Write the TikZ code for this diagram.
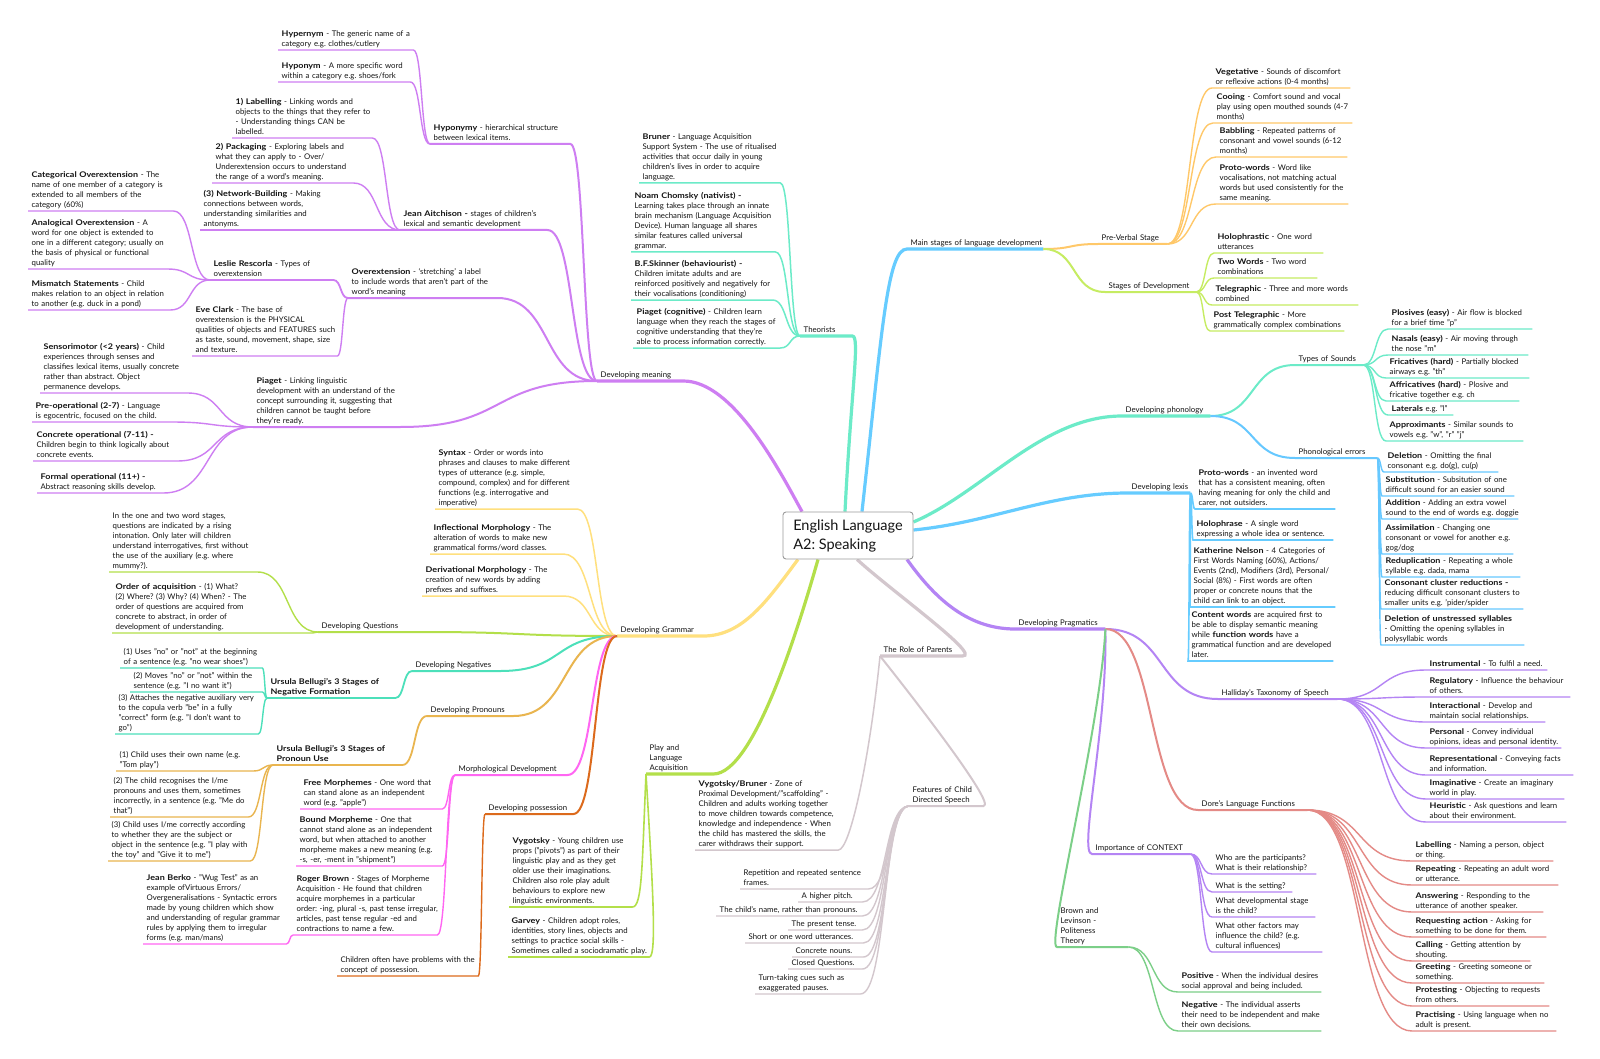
\documentclass[tikz,border=0pt]{standalone}
\usepackage{fontspec}
\setmainfont{Lato}[BoldFeatures={FakeStretch=1.15}]
\usetikzlibrary{calc,backgrounds}
\definecolor{cM}{HTML}{CE7EF2}
\definecolor{cT}{HTML}{6CEBC8}
\definecolor{cMS}{HTML}{66CCFF}
\definecolor{cPV}{HTML}{FFC869}
\definecolor{cSD}{HTML}{C6EC62}
\definecolor{cPh}{HTML}{6CEBC8}
\definecolor{cPE}{HTML}{66C8FF}
\definecolor{cLx}{HTML}{66CCFF}
\definecolor{cPr}{HTML}{B484F4}
\definecolor{cDo}{HTML}{E48A86}
\definecolor{cBL}{HTML}{7CCF88}
\definecolor{cRP}{HTML}{D3C7CD}
\definecolor{cPL}{HTML}{B3DF4A}
\definecolor{cG}{HTML}{FFE07E}
\definecolor{cQ}{HTML}{B3DF4A}
\definecolor{cN}{HTML}{4CE0BA}
\definecolor{cPn}{HTML}{E9B54F}
\definecolor{cMD}{HTML}{FF66F2}
\definecolor{cPo}{HTML}{DC6A1C}
\definecolor{txt}{HTML}{141414}
\definecolor{boxgray}{HTML}{9A9A9A}
\newcommand\lfnt{\fontsize{7.8}{10}\selectfont}
\newcommand\cfnt{\fontsize{14.5}{19}\selectfont}
\newcommand\bb[1]{\textbf{#1}}
\newcommand\LeftCon[4]{\draw[color=#1,line width=#2] (#3.south west) to[sb] (#4.south east) -- (#4.south west);}
\newcommand\RightCon[4]{\draw[color=#1,line width=#2] (#3.south east) to[sb] (#4.south west) -- (#4.south east);}
\tikzset{
  lf/.style={anchor=south west, inner xsep=0pt, inner ysep=0.4pt, text width=#1pt, font=\lfnt, text=txt,
    execute at begin node={\frenchspacing\parindent=0pt\relax\leftskip=3.5pt\relax\rightskip=-200pt plus 1fil\relax\parfillskip=0pt plus 1fil\relax},
    execute at end node={\strut}},
  sb/.style={to path={let \p1=(\tikztostart), \p2=(\tikztotarget), \n1={0.55*(\x2-\x1)}, \n2={-0.55*(\x2-\x1)} in .. controls +(\n1,0pt) and +(\n2,0pt) .. (\tikztotarget)}},
  w1/.style={line width=3.2pt},
}
\begin{document}
\frenchspacing
\begin{tikzpicture}[x=1pt,y=-1pt,line cap=round,line join=round]
\useasboundingbox (0,0) rectangle (1600,1059);
% ---------- centre
\node[draw=boxgray, line width=0.9pt, rounded corners=3pt, fill=white, minimum width=130pt, minimum height=47pt, font=\cfnt, align=left, text=txt] (ctr) at (848,535.5) {English Language\\A2: Speaking};
% ---------- Developing meaning
\node[lf=86] (dm) at (597,381) {Developing meaning};
\node[lf=140] (hypo) at (430,144) {\bb{Hyponymy} - hierarchical structure\\between lexical items.};
\node[lf=135] (hyper) at (278,50) {\bb{Hypernym} - The generic name of a\\category e.g. clothes/cutlery};
\node[lf=132] (hypon) at (278,82) {\bb{Hyponym} - A more specific word\\within a category e.g. shoes/fork};
\node[lf=147] (ja) at (400,230) {\bb{Jean Aitchison -} stages of children's\\lexical and semantic development};
\node[lf=140] (lab) at (232,138) {\bb{1) Labelling} - Linking words and\\objects to the things that they refer to\\- Understanding things CAN be\\labelled.};
\node[lf=141] (pack) at (212,183) {\bb{2) Packaging} - Exploring labels and\\what they can apply to - Over/\\Underextension occurs to understand\\the range of a word's meaning.};
\node[lf=198] (net) at (200,230) {\bb{(3) Network-Building} - Making\\connections between words,\\understanding similarities and\\antonyms.};
\node[lf=149] (ovx) at (348,298) {\bb{Overextension} - `stretching' a label\\to include words that aren't part of the\\word's meaning};
\node[lf=123] (les) at (210,280) {\bb{Leslie Rescorla} - Types of\\overextension};
\node[lf=145] (eve) at (192,356) {\bb{Eve Clark} - The base of\\overextension is the PHYSICAL\\qualities of objects and FEATURES such\\as taste, sound, movement, shape, size\\and texture.};
\node[lf=145] (cat) at (28,211) {\bb{Categorical Overextension} - The\\name of one member of a category is\\extended to all members of the\\category (60\%)};
\node[lf=139] (ana) at (28,269) {\bb{Analogical Overextension} - A\\word for one object is extended to\\one in a different category; usually on\\the basis of physical or functional\\quality};
\node[lf=142] (mis) at (28,310) {\bb{Mismatch Statements} - Child\\makes relation to an object in relation\\to another (e.g. duck in a pond)};
\node[lf=147] (pia) at (253,427) {\bb{Piaget} - Linking linguistic\\development with an understand of the\\concept surrounding it, suggesting that\\children cannot be taught before\\they're ready.};
\node[lf=147] (sen) at (40,393) {\bb{Sensorimotor (<2 years)} - Child\\experiences through senses and\\classifies lexical items, usually concrete\\rather than abstract. Object\\permanence develops.};
\node[lf=138] (pre) at (32,422) {\bb{Pre-operational (2-7)} - Language\\is egocentric, focused on the child.};
\node[lf=144] (con) at (33,461) {\bb{Concrete operational (7-11) -}\\Children begin to think logically about\\concrete events.};
\node[lf=126] (fop) at (37,493) {\bb{Formal operational (11+) -}\\Abstract reasoning skills develop.};
% ---------- Theorists
\node[lf=52] (th) at (800,336) {Theorists};
\node[lf=141] (bru) at (639,183) {\bb{Bruner} - Language Acquisition\\Support System - The use of ritualised\\activities that occur daily in young\\children's lives in order to acquire\\language.};
\node[lf=144] (cho) at (631,252) {\bb{Noam Chomsky (nativist) -}\\Learning takes place through an innate\\brain mechanism (Language Acquisition\\Device). Human language all shares\\similar features called universal\\grammar.};
\node[lf=141] (ski) at (631,300) {\bb{B.F.Skinner (behaviourist) -}\\Children imitate adults and are\\reinforced positively and negatively for\\their vocalisations (conditioning)};
\node[lf=147] (pcg) at (633,348) {\bb{Piaget (cognitive)} - Children learn\\language when they reach the stages of\\cognitive understanding that they're\\able to process information correctly.};
% ---------- Main stages
\node[lf=136] (ms) at (907,249) {Main stages of language development};
\node[lf=69] (pv) at (1098,244) {Pre-Verbal Stage};
\node[lf=91] (sd) at (1105,292) {Stages of Development};
\node[lf=138] (veg) at (1212,88) {\bb{Vegetative} - Sounds of discomfort\\or reflexive actions (0-4 months)};
\node[lf=139] (coo) at (1213,123) {\bb{Cooing} - Comfort sound and vocal\\play using open mouthed sounds (4-7\\months)};
\node[lf=131] (bab) at (1216,157) {\bb{Babbling} - Repeated patterns of\\consonant and vowel sounds (6-12\\months)};
\node[lf=132] (prw) at (1216,204) {\bb{Proto-words} - Word like\\vocalisations, not matching actual\\words but used consistently for the\\same meaning.};
\node[lf=109] (hol) at (1214,253) {\bb{Holophrastic} - One word\\utterances};
\node[lf=103] (two) at (1214,278) {\bb{Two Words} - Two word\\combinations};
\node[lf=146] (tel) at (1212,305) {\bb{Telegraphic} - Three and more words\\combined};
\node[lf=134] (pst) at (1210,331) {\bb{Post Telegraphic} - More\\grammatically complex combinations};
% ---------- Phonology
\node[lf=88] (ph) at (1122,416) {Developing phonology};
\node[lf=68] (ts) at (1295,365) {Types of Sounds};
\node[lf=82] (pe) at (1295,458) {Phonological errors};
\node[lf=144] (plo) at (1388,329) {\bb{Plosives (easy)} - Air flow is blocked\\for a brief time "p"};
\node[lf=140] (nas) at (1388,355) {\bb{Nasals (easy)} - Air moving through\\the nose "m"};
\node[lf=143] (fri) at (1386,378) {\bb{Fricatives (hard)} - Partially blocked\\airways e.g. "th"};
\node[lf=133] (aff) at (1386,401) {\bb{Affricatives (hard)} - Plosive and\\fricative together e.g. ch};
\node[lf=65] (lat) at (1388,415) {\bb{Laterals} e.g. "l"};
\node[lf=137] (app) at (1386,441) {\bb{Approximants} - Similar sounds to\\vowels e.g. "w", "r" "j"};
\node[lf=114] (del) at (1384,472) {\bb{Deletion} - Omitting the final\\consonant e.g. do(g), cu(p)};
\node[lf=132] (sub) at (1382,496) {\bb{Substitution} - Subsitution of one\\difficult sound for an easier sound};
\node[lf=136] (add) at (1382,519) {\bb{Addition} - Adding an extra vowel\\sound to the end of words e.g. doggie};
\node[lf=131] (ass) at (1382,554) {\bb{Assimilation} - Changing one\\consonant or vowel for another e.g.\\gog/dog};
\node[lf=138] (red) at (1382,577) {\bb{Reduplication} - Repeating a whole\\syllable e.g. dada, mama};
\node[lf=142] (ccr) at (1381,609) {\bb{Consonant cluster reductions -}\\reducing difficult consonant clusters to\\smaller units e.g. 'pider/spider};
\node[lf=143] (dus) at (1381,645) {\bb{Deletion of unstressed syllables}\\- Omitting the opening syllables in\\polysyllabic words};
% ---------- Lexis
\node[lf=62] (lx) at (1128,493) {Developing lexis};
\node[lf=140] (lpw) at (1195,509) {\bb{Proto-words} - an invented word\\that has a consistent meaning, often\\having meaning for only the child and\\carer, not outsiders.};
\node[lf=140] (lho) at (1193,540) {\bb{Holophrase} - A single word\\expressing a whole idea or sentence.};
\node[lf=145] (kn) at (1190,607) {\bb{Katherine Nelson} - 4 Categories of\\First Words Naming (60\%), Actions/\\Events (2nd), Modifiers (3rd), Personal/\\Social (8\%) - First words are often\\proper or concrete nouns that the\\child can link to an object.};
\node[lf=145] (cw) at (1188,661) {\bb{Content words} are acquired first to\\be able to display semantic meaning\\while \bb{function words} have a\\grammatical function and are developed\\later.};
% ---------- Pragmatics
\node[lf=90] (pr) at (1015,629) {Developing Pragmatics};
\node[lf=119] (hal) at (1218,699) {Halliday's Taxonomy of Speech};
\node[lf=109] (dor) at (1198,810) {Dore's Language Functions};
\node[lf=98] (ctx) at (1092,854) {Importance of CONTEXT};
\node[lf=71] (bl) at (1057,947) {Brown and\\Levinson -\\Politeness\\Theory};
\node[lf=121] (ins) at (1426,670) {\bb{Instrumental} - To fulfil a need.};
\node[lf=144] (reg) at (1426,697) {\bb{Regulatory} - Influence the behaviour\\of others.};
\node[lf=119] (int) at (1426,722) {\bb{Interactional} - Develop and\\maintain social relationships.};
\node[lf=135] (per) at (1426,748) {\bb{Personal} - Convey individual\\opinions, ideas and personal identity.};
\node[lf=147] (rep) at (1426,775) {\bb{Representational} - Conveying facts\\and information.};
\node[lf=138] (ima) at (1426,799) {\bb{Imaginative} - Create an imaginary\\world in play.};
\node[lf=140] (heu) at (1426,822) {\bb{Heuristic} - Ask questions and learn\\about their environment.};
\node[lf=141] (dla) at (1412,861) {\bb{Labelling} - Naming a person, object\\or thing.};
\node[lf=146] (drp) at (1412,885) {\bb{Repeating} - Repeating an adult word\\or utterance.};
\node[lf=131] (dan) at (1412,912) {\bb{Answering} - Responding to the\\utterance of another speaker.};
\node[lf=134] (drq) at (1412,937) {\bb{Requesting action} - Asking for\\something to be done for them.};
\node[lf=118] (dca) at (1412,961) {\bb{Calling} - Getting attention by\\shouting.};
\node[lf=132] (dgr) at (1412,983) {\bb{Greeting} - Greeting someone or\\something.};
\node[lf=137] (dpt) at (1412,1006) {\bb{Protesting} - Objecting to requests\\from others.};
\node[lf=144] (dpc) at (1412,1031) {\bb{Practising} - Using language when no\\adult is present.};
\node[lf=104] (cw1) at (1212,874) {Who are the participants?\\What is their relationship?};
\node[lf=80] (cw2) at (1212,892) {What is the setting?};
\node[lf=103] (cw3) at (1212,917) {What developmental stage\\is the child?};
\node[lf=110] (cw4) at (1212,952) {What other factors may\\influence the child? (e.g.\\cultural influences)};
\node[lf=143] (pos) at (1178,992) {\bb{Positive} - When the individual desires\\social approval and being included.};
\node[lf=143] (neg) at (1178,1031) {\bb{Negative} - The individual asserts\\their need to be independent and make\\their own decisions.};
% ---------- Role of parents
\node[lf=82] (rp) at (880,656) {The Role of Parents};
\node[lf=143] (vb) at (695,850) {\bb{Vygotsky/Bruner} - Zone of\\Proximal Development/"scaffolding" -\\Children and adults working together\\to move children towards competence,\\knowledge and independence - When\\the child has mastered the skills, the\\carer withdraws their support.};
\node[lf=74] (cds) at (909,806) {Features of Child\\Directed Speech};
\node[lf=128] (f1) at (740,889) {Repetition and repeated sentence\\frames.};
\node[lf=64] (f2) at (798,902) {A higher pitch.};
\node[lf=146] (f3) at (716,916) {The child's name, rather than pronouns.};
\node[lf=74] (f4) at (788,930) {The present tense.};
\node[lf=118] (f5) at (745,943) {Short or one word utterances.};
\node[lf=71] (f6) at (792,957) {Concrete nouns.};
\node[lf=74] (f7) at (788,969) {Closed Questions.};
\node[lf=105] (f8) at (755,994) {Turn-taking cues such as\\exaggerated pauses.};
% ---------- Play
\node[lf=67] (pl) at (646,774) {Play and\\Language\\Acquisition};
\node[lf=123] (vy) at (509,907) {\bb{Vygotsky} - Young children use\\props ("pivots") as part of their\\linguistic play and as they get\\older use their imaginations.\\Children also role play adult\\behaviours to explore new\\linguistic environments.};
\node[lf=141] (ga) at (508,957) {\bb{Garvey} - Children adopt roles,\\identities, story lines, objects and\\settings to practice social skills -\\Sometimes called a sociodramatic play.};
% ---------- Grammar
\node[lf=86] (gr) at (617,636) {Developing Grammar};
\node[lf=142] (syn) at (435,509) {\bb{Syntax} - Order or words into\\phrases and clauses to make different\\types of utterance (e.g. simple,\\compound, complex) and for different\\functions (e.g. interrogative and\\imperative)};
\node[lf=133] (inf) at (430,554) {\bb{Inflectional Morphology} - The\\alteration of words to make new\\grammatical forms/word classes.};
\node[lf=141] (der) at (422,596) {\bb{Derivational Morphology} - The\\creation of new words by adding\\prefixes and suffixes.};
\node[lf=102] (dq) at (318,632) {Developing Questions};
\node[lf=148] (q1) at (109,572) {In the one and two word stages,\\questions are indicated by a rising\\intonation. Only later will children\\understand interrogatives, first without\\the use of the auxiliary (e.g. where\\mummy?).};
\node[lf=200] (q2) at (112,633) {\bb{Order of acquisition} - (1) What?\\(2) Where? (3) Why? (4) When? - The\\order of questions are acquired from\\concrete to abstract, in order of\\development of understanding.};
\node[lf=88] (dng) at (412,671) {Developing Negatives};
\node[lf=128] (ub1) at (267,698) {\bb{Ursula Bellugi's 3 Stages of}\\\bb{Negative Formation}};
\node[lf=142] (n1) at (120,668) {(1) Uses "no" or "not" at the beginning\\of a sentence (e.g. "no wear shoes")};
\node[lf=132] (n2) at (130,692) {(2) Moves "no" or "not" within the\\sentence (e.g. "I no want it")};
\node[lf=143] (n3) at (115,734) {(3) Attaches the negative auxiliary very\\to the copula verb "be" in a fully\\"correct" form (e.g. "I don't want to\\go")};
\node[lf=86] (dpn) at (427,716) {Developing Pronouns};
\node[lf=129] (ub2) at (273,765) {\bb{Ursula Bellugi's 3 Stages of}\\\bb{Pronoun Use}};
\node[lf=137] (p1) at (116,771) {(1) Child uses their own name (e.g.\\"Tom play")};
\node[lf=138] (p2) at (110,817) {(2) The child recognises the I/me\\pronouns and uses them, sometimes\\incorrectly, in a sentence (e.g. "Me do\\that")};
\node[lf=142] (p3) at (108,861) {(3) Child uses I/me correctly according\\to whether they are the subject or\\object in the sentence (e.g. "I play with\\the toy" and "Give it to me")};
\node[lf=112] (mdv) at (455,775) {Morphological Development};
\node[lf=142] (fm) at (300,809) {\bb{Free Morphemes} - One word that\\can stand alone as an independent\\word (e.g. "apple")};
\node[lf=146] (bm) at (296,866) {\bb{Bound Morpheme} - One that\\cannot stand alone as an independent\\word, but when attached to another\\morpheme makes a new meaning (e.g.\\-s, -er, -ment in "shipment")};
\node[lf=144] (rb) at (293,935) {\bb{Roger Brown} - Stages of Morpheme\\Acquisition - He found that children\\acquire morphemes in a particular\\order: -ing, plural -s, past tense irregular,\\articles, past tense regular -ed and\\contractions to name a few.};
\node[lf=143] (jb) at (143,944) {\bb{Jean Berko} - "Wug Test" as an\\example ofVirtuous Errors/\\Overgeneralisations - Syntactic errors\\made by young children which show\\and understanding of regular grammar\\rules by applying them to irregular\\forms (e.g. man/mans)};
\node[lf=88] (dps) at (485,814) {Developing possession};
\node[lf=141] (cp) at (337,976) {Children often have problems with the\\concept of possession.};
% ================= connectors
\begin{scope}[on background layer]
\fill[white] (0,0) rectangle (1600,1059);
% main branches
\draw[cM,w1] ([xshift=-46pt]ctr.north) .. controls +(-22,-40) and +(50,0) .. (dm.south east) -- (dm.south west);
\draw[cT,w1] ([xshift=-3pt]ctr.north) .. controls +(6,-120) and +(8,0) .. (th.south east) -- (th.south west);
\draw[cMS,w1] ([xshift=14pt]ctr.north) .. controls +(20,-180) and +(-20,0) .. (ms.south west) -- (ms.south east);
\draw[cPh,w1] ([yshift=13.5pt]ctr.east) .. controls +(70,-30) and +(-80,0) .. (ph.south west) -- (ph.south east);
\draw[cLx,w1] ([yshift=5.5pt]ctr.east) .. controls +(80,-8) and +(-80,0) .. (lx.south west) -- (lx.south east);
\draw[cPr,w1] ([xshift=59pt]ctr.south) .. controls +(25,35) and +(-50,0) .. (pr.south west) -- (pr.south east);
\draw[cRP,w1] ([xshift=9pt]ctr.south) .. controls +(35,32) and +(20,0) .. (rp.south east) -- (rp.south west);
\draw[cPL,w1] ([xshift=-30pt]ctr.south) .. controls +(-20,70) and +(40,0) .. (pl.south east) -- (pl.south west);
\draw[cG,w1] ([xshift=-50pt]ctr.south) .. controls +(-30,40) and +(40,0) .. (gr.south east) -- (gr.south west);
% meaning
\foreach \c in {hypo,ja,ovx,pia} {\LeftCon{cM}{2pt}{dm}{\c}}
\LeftCon{cM}{1.8pt}{ovx}{les}
\foreach \c in {hyper,hypon} {\LeftCon{cM}{1.4pt}{hypo}{\c}}
\foreach \c in {lab,pack,net} {\LeftCon{cM}{1.4pt}{ja}{\c}}
\LeftCon{cM}{1.4pt}{ovx}{eve}
\foreach \c in {cat,ana,mis} {\LeftCon{cM}{1.4pt}{les}{\c}}
\foreach \c in {sen,pre,con,fop} {\LeftCon{cM}{1.4pt}{pia}{\c}}
% theorists
\foreach \c in {bru,cho,ski,pcg} {\LeftCon{cT}{1.5pt}{th}{\c}}
% main stages
\RightCon{cPV}{2pt}{ms}{pv}
\RightCon{cSD}{2pt}{ms}{sd}
\foreach \c in {veg,coo,bab,prw} {\RightCon{cPV}{1.4pt}{pv}{\c}}
\foreach \c in {hol,two,tel,pst} {\RightCon{cSD}{1.4pt}{sd}{\c}}
% phonology
\RightCon{cPh}{2pt}{ph}{ts}
\RightCon{cPE}{2pt}{ph}{pe}
\foreach \c in {plo,nas,fri,aff,lat,app} {\RightCon{cPh}{1.4pt}{ts}{\c}}
\foreach \c in {del,sub,add,ass,red,ccr,dus} {\RightCon{cPE}{1.4pt}{pe}{\c}}
% lexis
\foreach \c in {lpw,lho,kn,cw} {\RightCon{cLx}{1.6pt}{lx}{\c}}
% pragmatics
\RightCon{cPr}{2pt}{pr}{hal}
\RightCon{cDo}{2pt}{pr}{dor}
\draw[cPr,line width=2pt] (pr.south east) .. controls +(2,100) and +(-14,0) .. (ctx.south west) -- (ctx.south east);
\draw[cBL,line width=2pt] (pr.south east) .. controls +(-5,100) and +(-12,0) .. (bl.south west) -- (bl.south east);
\foreach \c in {ins,reg,int,per,rep,ima,heu} {\RightCon{cPr}{1.4pt}{hal}{\c}}
\foreach \c in {dla,drp,dan,drq,dca,dgr,dpt,dpc} {\RightCon{cDo}{1.4pt}{dor}{\c}}
\foreach \c in {cw1,cw2,cw3,cw4} {\RightCon{cPr}{1.4pt}{ctx}{\c}}
\foreach \c in {pos,neg} {\RightCon{cBL}{1.4pt}{bl}{\c}}
% role of parents
\draw[cRP,line width=1.5pt] (rp.south west) .. controls +(-10,100) and +(12,0) .. (vb.south east) -- (vb.south west);
\draw[cRP,line width=2pt] (rp.south west) .. controls +(20,25) and +(15,0) .. (cds.south east) -- (cds.south west);
\foreach \c in {f1,f2,f3,f4,f5,f6,f7,f8} {\LeftCon{cRP}{1.4pt}{cds}{\c}}
% play
\draw[cPL,line width=1.6pt] (pl.south west) .. controls +(-4,90) and +(10,0) .. (vy.south east) -- (vy.south west);
\draw[cPL,line width=1.6pt] (pl.south west) .. controls +(6,100) and +(8,0) .. (ga.south east) -- (ga.south west);
% grammar
\foreach \c in {syn,inf,der} {\LeftCon{cG}{1.5pt}{gr}{\c}}
\LeftCon{cQ}{2pt}{gr}{dq}
\foreach \c in {q1,q2} {\LeftCon{cQ}{1.4pt}{dq}{\c}}
\LeftCon{cN}{2pt}{gr}{dng}
\LeftCon{cN}{1.8pt}{dng}{ub1}
\foreach \c in {n1,n2,n3} {\LeftCon{cN}{1.4pt}{ub1}{\c}}
\LeftCon{cPn}{2pt}{gr}{dpn}
\LeftCon{cPn}{1.8pt}{dpn}{ub2}
\foreach \c in {p1,p2,p3} {\LeftCon{cPn}{1.4pt}{ub2}{\c}}
\LeftCon{cMD}{2pt}{gr}{mdv}
\foreach \c in {fm,bm,rb} {\LeftCon{cMD}{1.4pt}{mdv}{\c}}
\LeftCon{cMD}{1.4pt}{rb}{jb}
\LeftCon{cPo}{2pt}{gr}{dps}
\LeftCon{cPo}{1.4pt}{dps}{cp}
\end{scope}
\end{tikzpicture}
\end{document}
